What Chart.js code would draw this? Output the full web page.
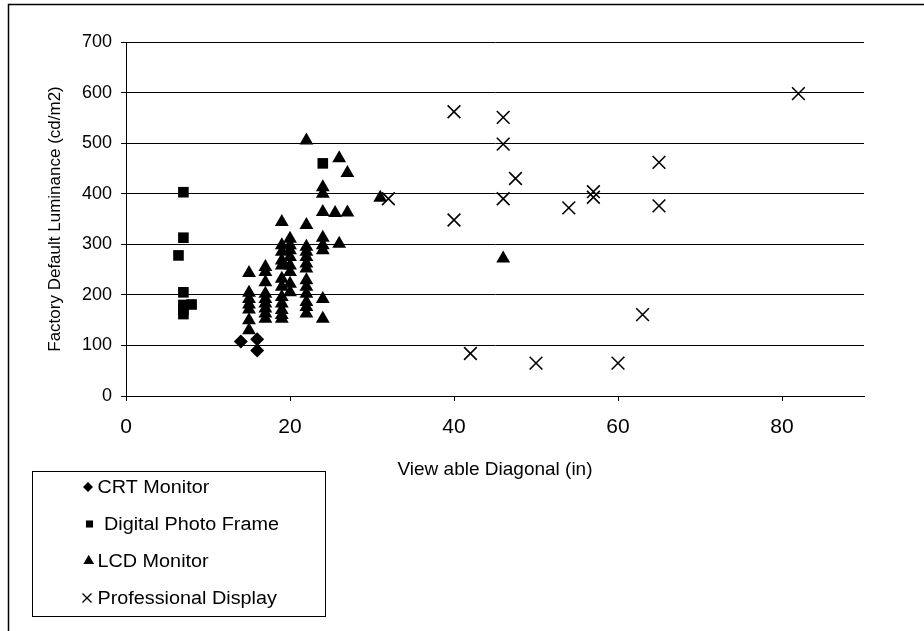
<!DOCTYPE html>
<html>
<head>
<meta charset="utf-8">
<script src="https://cdn.jsdelivr.net/npm/chart.js@4/dist/chart.umd.min.js"></script>
<style>
  html, body { margin:0; padding:0; background:#fff; }
  #wrap { width:924px; height:631px; }
</style>
</head>
<body>
<div id="wrap"><canvas id="chart" width="924" height="631"></canvas></div>
<script>
// values: [diagonal (in), luminance (cd/m2)]
const seriesNames = ["CRT Monitor", "Digital Photo Frame", "LCD Monitor", "Professional Display"];

const crtMonitor = [[14,108],[16,112],[16,90]];

const photoFrame = [[7,403],[7,313],[6.4,278],[7,205],[7,180],[8,181],[7,170],[7,162],[24,460]];

const lcdMonitor = [
  [15,243],[15,204],[15,192],[15,181],[15,171],[15,150],[15,130],
  [17,255],[17,245],[17,225],[17,202],[17,192],[17,183],[17,173],[17,163],[17,153],
  [19,344],[19,298],[19,285],[19,268],[19,258],[19,232],[19,216],[19,196],[19,183],[19,170],[19,160],[19,153],
  [20,311],[20,298],[20,288],[20,275],[20,258],[20,245],[20,222],[20,205],
  [22,505],[22,338],[22,295],[22,285],[22,275],[22,262],[22,252],[22,229],[22,216],[22,202],[22,186],[22,176],[22,163],
  [24,413],[24,400],[24,364],[24,313],[24,298],[24,288],[24,192],[24,153],
  [25.5,362],[26,470],[26,301],[27,441],[27,363],
  [31,392],[46,272]
];

const proDisplay = [
  [40,562],[46,551],[46,498],[47.5,430],[32,390],[46,390],[40,348],[54,372],
  [57,404],[57,393],[65,462],[65,376],[63,161],[42,84],[50,65],[60,65],[82,598]
];

const xTicks = [0,20,40,60,80];
const yTicks = [0,100,200,300,400,500,600,700];

const FONT = "'Liberation Sans', Arial, sans-serif";
const pointStyles  = ["rectRot","rect","triangle","crossRot"];
const pointRadii   = [7, 7.5, 8, 9];
const legendRadii  = [5, 5, 6.2, 6.4];
const legendMarkX  = [88, 89.5, 88.7, 87];
const legendTextX  = [97.5, 104, 97.5, 97.5];
const seriesData   = [crtMonitor, photoFrame, lcdMonitor, proDisplay];

const toPts = arr => arr.map(([x, y]) => ({ x, y }));

const datasets = seriesNames.map((name, i) => ({
  label: name,
  data: toPts(seriesData[i]),
  pointStyle: pointStyles[i],
  pointRadius: pointRadii[i],
  pointHoverRadius: pointRadii[i],
  backgroundColor: "#000",
  borderColor: "#000",
  borderWidth: i === 3 ? 1.6 : 0,
  showLine: false,
  order: 3 - i
}));

const frame = {
  id: "frame",
  beforeDraw(chart){
    const c = chart.ctx;
    c.save();
    c.fillStyle = "#fff";
    c.fillRect(0, 0, chart.width, chart.height);
    c.strokeStyle = "#000";
    c.lineWidth = 1.5;
    c.beginPath();
    c.moveTo(8.5, chart.height + 2);
    c.lineTo(8.5, 4.5);
    c.lineTo(chart.width + 2, 4.5);
    c.stroke();
    c.restore();
  }
};

const legendBox = {
  id: "legendBox",
  afterDraw(chart){
    const c = chart.ctx;
    c.save();
    c.strokeStyle = "#000";
    c.lineWidth = 1;
    c.strokeRect(32.5, 471.5, 293, 145);
    c.font = "18px " + FONT;
    c.textBaseline = "middle";
    c.textAlign = "left";
    chart.data.datasets.forEach((ds, i) => {
      const y = 487 + i * 37;
      c.fillStyle = "#000";
      c.strokeStyle = "#000";
      c.lineWidth = 1.3;
      Chart.helpers.drawPoint(c, { pointStyle: ds.pointStyle, radius: legendRadii[i], borderWidth: i === 3 ? 1.3 : 0, rotation: 0 }, legendMarkX[i], y);
      // reference text is a little wider than plain Arial
      c.save();
      c.translate(legendTextX[i], y + 1);
      c.scale(1.1, 1);
      c.fillText(ds.label, 0, 0);
      c.restore();
    });
    c.restore();
  }
};

new Chart(document.getElementById("chart"), {
  type: "scatter",
  data: { datasets },
  plugins: [frame, legendBox],
  options: {
    responsive: false,
    animation: false,
    layout: { padding: { top: 42, right: 60, left: 0, bottom: 0 } },
    plugins: { legend: { display: false }, tooltip: { enabled: false } },
    scales: {
      x: {
        type: "linear",
        min: 0, max: 90,
        afterBuildTicks: s => { s.ticks = xTicks.map(v => ({ value: v })); },
        afterFit: s => { s.height = 235; },
        ticks: { color: "#000", padding: 14, font: { family: FONT, size: 21 } },
        grid: { drawOnChartArea: false, drawTicks: true, tickLength: 5, color: "#000" },
        border: { display: true, color: "#000", width: 1 },
        title: { display: true, text: "View able Diagonal (in)", color: "#000",
                 font: { family: FONT, size: 19 }, padding: { top: 0, bottom: 150 } }
      },
      y: {
        type: "linear",
        min: 0, max: 700,
        afterBuildTicks: s => { s.ticks = yTicks.map(v => ({ value: v })); },
        afterFit: s => { s.width = 126; },
        ticks: { color: "#000", padding: 9, font: { family: FONT, size: 18 } },
        grid: { color: "#000", lineWidth: 1, tickLength: 5 },
        border: { display: true, color: "#000", width: 1 },
        title: { display: true, text: "Factory Default Luminance (cd/m2)", color: "#000",
                 font: { family: FONT, size: 17 }, padding: { top: 45, bottom: 0 } }
      }
    }
  }
});
</script>
</body>
</html>
